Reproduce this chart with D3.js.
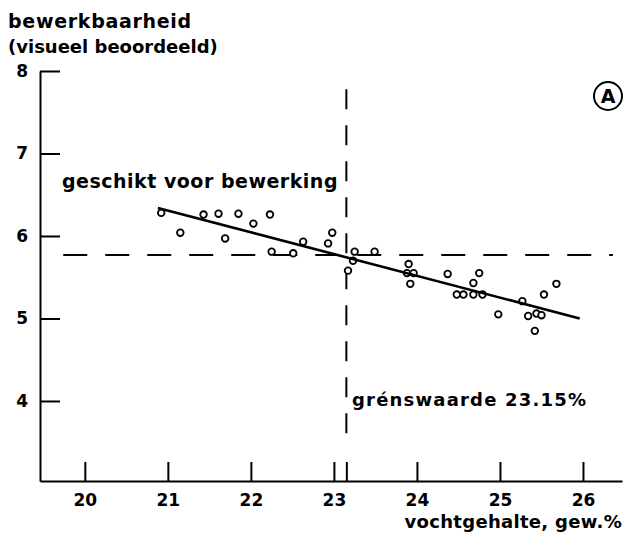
<!DOCTYPE html>
<html>
<head>
<meta charset="utf-8">
<script src="https://cdn.jsdelivr.net/npm/d3@7"></script>
<style>
  body { margin: 0; background: #fff; }
  svg text { font-family: "DejaVu Sans", sans-serif; font-weight: bold; fill: #000; }
</style>
</head>
<body>
<div id="chart"></div>
<script>
// vochtgehalte (gew.%) and bewerkbaarheid of the samples
const moisture = [20.92, 21.15, 21.43, 21.61, 21.69, 21.85, 22.03, 22.23, 22.25, 22.51,
    22.63, 22.93, 22.98, 23.17, 23.23, 23.25, 23.49, 23.90, 23.88, 23.96,
    23.92, 24.37, 24.75, 24.68, 24.48, 24.56, 24.68, 24.79, 25.27, 25.53,
    25.68, 24.98, 25.34, 25.44, 25.50, 25.42];
const workability = [6.28, 6.04, 6.26, 6.27, 5.97, 6.27, 6.15, 6.26, 5.81, 5.79,
    5.93, 5.91, 6.04, 5.58, 5.70, 5.81, 5.81, 5.66, 5.55, 5.55,
    5.42, 5.54, 5.55, 5.43, 5.29, 5.29, 5.29, 5.29, 5.21, 5.29,
    5.42, 5.05, 5.03, 5.06, 5.04, 4.85];

// fitted line end points
const fitX = [20.88, 25.96];
const fitY = [6.34, 5.00];

const threshold = 23.15;      // grenswaarde
const thresholdLevel = 5.77;  // bewerkbaarheid at grenswaarde

const xTicks = [20, 21, 22, 23, 24, 25, 26];
const yTicks = [4, 5, 6, 7, 8];

const width = 626, height = 536;

const svg = d3.select("#chart").append("svg")
    .attr("width", width)
    .attr("height", height);

const x = d3.scaleLinear().domain([19.46, 26.47]).range([40, 622]);
const y = d3.scaleLinear().domain([3.03, 8]).range([481, 71]);

// Y axis
const yAxisG = svg.append("g")
    .attr("transform", `translate(${x(19.46)}, 0)`)
    .call(d3.axisLeft(y).tickValues(yTicks).tickSize(-20).tickSizeOuter(0).tickPadding(12).tickFormat(d3.format("d")));

// X axis
const xAxisG = svg.append("g")
    .attr("transform", `translate(0, ${y(3.03)})`)
    .call(d3.axisBottom(x).tickValues(xTicks.concat([threshold])).tickSize(-19).tickSizeOuter(0).tickPadding(13)
        .tickFormat(d => xTicks.includes(d) ? d : ""));

svg.selectAll(".domain, .tick line")
    .attr("stroke", "#000")
    .attr("stroke-width", 2);
svg.selectAll(".tick text")
    .attr("font-size", "17px")
    .style("font-family", "DejaVu Sans, sans-serif")
    .style("font-weight", "bold");

// axis titles
svg.append("text")
    .attr("x", 8).attr("y", 28)
    .attr("font-size", "19px")
    .attr("letter-spacing", "0.7px")
    .text("bewerkbaarheid");
svg.append("text")
    .attr("x", 8).attr("y", 53)
    .attr("font-size", "18px")
    .text("(visueel beoordeeld)");
svg.append("text")
    .attr("x", 622).attr("y", 528)
    .attr("text-anchor", "end")
    .attr("font-size", "18px")
    .attr("letter-spacing", "0.3px")
    .text("vochtgehalte, gew.%");

// dashed reference lines
svg.append("line")
    .attr("x1", x(19.74)).attr("x2", x(26.36))
    .attr("y1", y(thresholdLevel)).attr("y2", y(thresholdLevel))
    .attr("stroke", "#000")
    .attr("stroke-width", 2)
    .attr("stroke-dasharray", "24,18");
svg.append("line")
    .attr("x1", x(threshold)).attr("x2", x(threshold))
    .attr("y1", y(7.78)).attr("y2", y(3.48))
    .attr("stroke", "#000")
    .attr("stroke-width", 2)
    .attr("stroke-dasharray", "20,16");

// points
const pts = d3.zip(moisture, workability);
svg.append("g").selectAll("circle")
    .data(pts)
    .enter().append("circle")
    .attr("cx", d => x(d[0]))
    .attr("cy", d => y(d[1]))
    .attr("r", 3.3)
    .attr("fill", "#fff")
    .attr("stroke", "#000")
    .attr("stroke-width", 1.8);

// fitted line
svg.append("line")
    .attr("x1", x(fitX[0])).attr("y1", y(fitY[0]))
    .attr("x2", x(fitX[1])).attr("y2", y(fitY[1]))
    .attr("stroke", "#000")
    .attr("stroke-width", 2.6);

// annotations
svg.append("text")
    .attr("x", 62).attr("y", 188)
    .attr("font-size", "19px")
    .attr("letter-spacing", "0.5px")
    .text("geschikt voor bewerking");
svg.append("text")
    .attr("x", 352).attr("y", 406)
    .attr("font-size", "18px")
    .attr("letter-spacing", "1.2px")
    .text("grénswaarde 23.15%");

// circled A
svg.append("circle")
    .attr("cx", 608).attr("cy", 96).attr("r", 14)
    .attr("fill", "none")
    .attr("stroke", "#000")
    .attr("stroke-width", 2);
svg.append("text")
    .attr("x", 608).attr("y", 103)
    .attr("text-anchor", "middle")
    .attr("font-size", "19px")
    .text("A");
</script>
</body>
</html>
